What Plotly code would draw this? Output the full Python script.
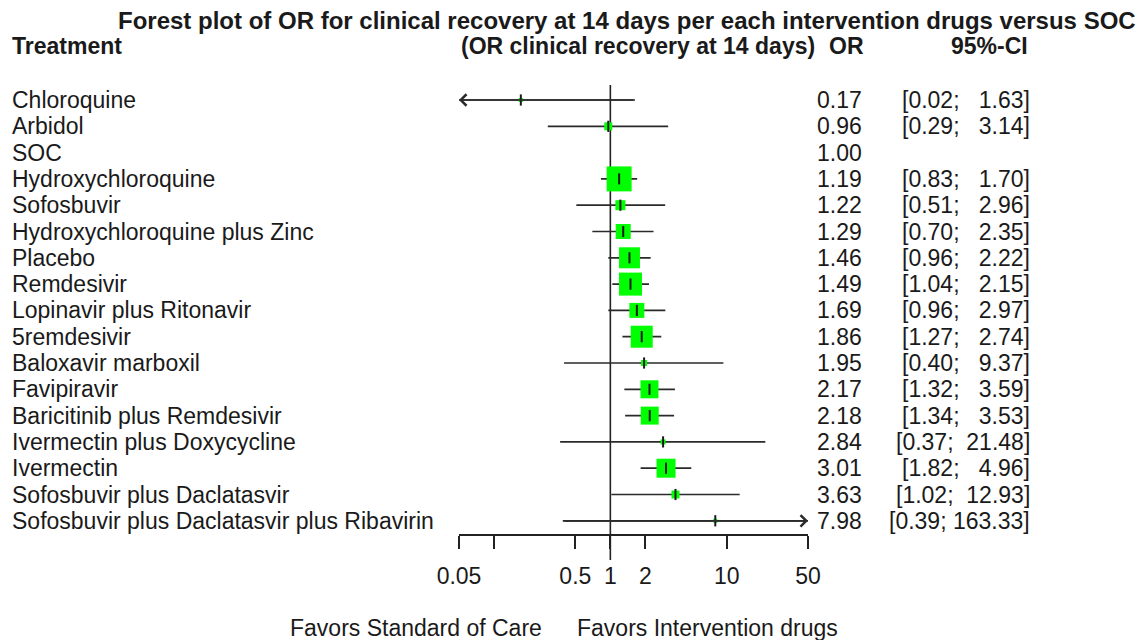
import numpy as np
import plotly.graph_objects as go

treatments = ["Chloroquine", "Arbidol", "SOC", "Hydroxychloroquine", "Sofosbuvir",
              "Hydroxychloroquine plus Zinc", "Placebo", "Remdesivir",
              "Lopinavir plus Ritonavir", "5remdesivir", "Baloxavir marboxil",
              "Favipiravir", "Baricitinib plus Remdesivir", "Ivermectin plus Doxycycline",
              "Ivermectin", "Sofosbuvir plus Daclatasvir",
              "Sofosbuvir plus Daclatasvir plus Ribavirin"]
or_vals = [0.17, 0.96, 1.00, 1.19, 1.22, 1.29, 1.46, 1.49, 1.69, 1.86, 1.95,
           2.17, 2.18, 2.84, 3.01, 3.63, 7.98]
lower = [0.02, 0.29, None, 0.83, 0.51, 0.70, 0.96, 1.04, 0.96, 1.27, 0.40,
         1.32, 1.34, 0.37, 1.82, 1.02, 0.39]
upper = [1.63, 3.14, None, 1.70, 2.96, 2.35, 2.22, 2.15, 2.97, 2.74, 9.37,
         3.59, 3.53, 21.48, 4.96, 12.93, 163.33]
weights = [4, 8, 0, 25, 10, 15, 21, 23, 15, 22, 6, 18, 18, 5, 19, 8, 4]  # box size

tick_vals = [0.05, 0.1, 0.5, 1, 2, 10, 50]
tick_text = ["0.05", "", "0.5", "1", "2", "10", "50"]
x_min, x_max = 0.05, 50

W, H = 1147, 640
row0_px, row_step = 100, 26.3
FONT = "Liberation Sans, Arial, sans-serif"
TXT = "#1a1a1a"
FS = 23

rows = list(range(len(treatments)))

fig = go.Figure()

# reference line at OR = 1
fig.add_trace(go.Scatter(x=[1, 1], y=[-0.57, 17.49], mode="lines",
                         line=dict(color="#222", width=1.6), hoverinfo="skip",
                         showlegend=False))

# CI lines (clipped to axis range)
cx, cy = [], []
arrows = []
for i in rows:
    if lower[i] is None:
        continue
    a = max(lower[i], x_min)
    b = min(upper[i], x_max)
    cx += [a, b, None]
    cy += [i, i, None]
    if lower[i] < x_min:
        arrows.append((i, b, x_min))
    if upper[i] > x_max:
        arrows.append((i, a, x_max))
fig.add_trace(go.Scatter(x=cx, y=cy, mode="lines", line=dict(color="#2a2a2a", width=1.7),
                         hoverinfo="skip", showlegend=False))

# boxes
bx = [or_vals[i] for i in rows if weights[i] > 0]
by = [i for i in rows if weights[i] > 0]
bs = [weights[i] for i in rows if weights[i] > 0]
fig.add_trace(go.Scatter(x=bx, y=by, mode="markers",
                         marker=dict(symbol="square", size=bs, color="#00FF00",
                                     opacity=1, line=dict(width=0)),
                         hoverinfo="skip", showlegend=False))
# point estimate ticks
fig.add_trace(go.Scatter(x=bx, y=by, mode="markers",
                         marker=dict(symbol="line-ns", size=8,
                                     line=dict(width=2, color="#1a1a1a")),
                         hoverinfo="skip", showlegend=False))

annotations = []
for (i, start, tip) in arrows:
    annotations.append(dict(x=np.log10(tip), y=i, ax=np.log10(start), ay=i,
                            xref="x", yref="y", axref="x", ayref="y",
                            showarrow=True, arrowhead=4, arrowsize=1.3,
                            arrowwidth=1.7, arrowcolor="#2a2a2a", text=""))

nb = "\u00a0"
for i in rows:
    annotations.append(dict(x=10 / W, y=i, xref="paper", yref="y", xanchor="left",
                            text=treatments[i], showarrow=False,
                            font=dict(family=FONT, size=FS, color=TXT)))
    annotations.append(dict(x=864 / W, y=i, xref="paper", yref="y", xanchor="right",
                            text=f"{or_vals[i]:.2f}", showarrow=False,
                            font=dict(family=FONT, size=FS, color=TXT)))
    if lower[i] is not None:
        hi = f"{upper[i]:.2f}".rjust(6).replace(" ", nb)
        ci = f"[{lower[i]:.2f};{nb}{hi}]"
        annotations.append(dict(x=1032 / W, y=i, xref="paper", yref="y", xanchor="right",
                                text=ci, showarrow=False,
                                font=dict(family=FONT, size=FS, color=TXT)))

def ptxt(text, xpx, ypx, anchor, bold=False, size=FS):
    return dict(x=xpx / W, y=1 - ypx / H, xref="paper", yref="paper",
                xanchor=anchor, yanchor="middle",
                text=f"<b>{text}</b>" if bold else text, showarrow=False,
                font=dict(family=FONT, size=size, color=TXT))

annotations += [
    ptxt("Forest plot of OR for clinical recovery at 14 days per each intervention drugs versus SOC",
         627, 20, "center", bold=True, size=24),
    ptxt("Treatment", 10, 46, "left", bold=True),
    ptxt("(OR clinical recovery at 14 days)", 638, 46, "center", bold=True),
    ptxt("OR", 866, 46, "right", bold=True),
    ptxt("95%-CI", 1030, 46, "right", bold=True),
    ptxt("Favors Standard of Care", 544, 628, "right"),
    ptxt("Favors Intervention drugs", 575, 628, "left"),
]

fig.update_layout(
    width=W, height=H, margin=dict(l=0, r=0, t=0, b=0, pad=0, autoexpand=False),
    paper_bgcolor="white", plot_bgcolor="white",
    annotations=annotations,
    xaxis=dict(type="log", domain=[459 / W, 808 / W],
               range=[np.log10(x_min), np.log10(x_max)],
               anchor="free", position=1 - 535 / H, automargin=False,
               showline=True, linecolor="#222", linewidth=1.6,
               ticks="outside", ticklen=13, tickwidth=1.6, tickcolor="#222",
               tickvals=tick_vals, ticktext=tick_text,
               tickfont=dict(family=FONT, size=FS, color=TXT),
               showgrid=False, zeroline=False, ticklabelstandoff=8),
    yaxis=dict(range=[(H - row0_px) / row_step, -row0_px / row_step],
               domain=[0, 1], visible=False, showgrid=False, zeroline=False,
               automargin=False),
)

fig.write_html("out.html")
